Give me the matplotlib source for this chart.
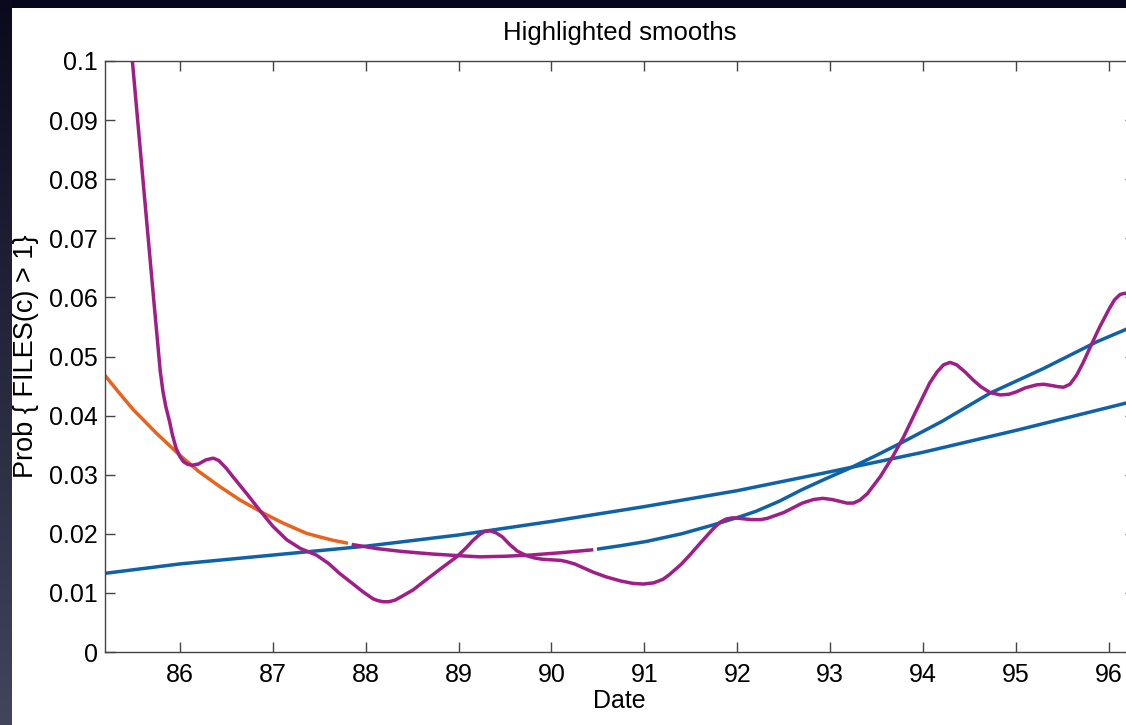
import numpy as np
import matplotlib
matplotlib.use("Agg")
import matplotlib.pyplot as plt
from matplotlib.patches import Rectangle

plt.rcParams['font.family'] = ['Liberation Sans', 'DejaVu Sans']

# ---- data ----
wiggle_x = [85.47, 85.49, 85.60, 85.71, 85.79, 85.82, 85.85, 85.89, 85.92, 85.96, 86.00, 86.04, 86.08,
            86.13, 86.20, 86.28, 86.36, 86.42, 86.50, 86.57, 86.72, 86.86, 87.00, 87.15, 87.30,
            87.47, 87.60, 87.72, 87.85, 87.97, 88.08, 88.13, 88.19, 88.25, 88.32, 88.40, 88.51,
            88.65, 88.80, 88.98, 89.08, 89.15, 89.22, 89.28, 89.34, 89.40, 89.47, 89.55, 89.63,
            89.73, 89.82, 89.90, 90.00, 90.10, 90.16, 90.25, 90.35, 90.45, 90.59, 90.75, 90.88,
            90.99, 91.10, 91.20, 91.27, 91.40, 91.50, 91.60, 91.68, 91.75, 91.82, 91.88, 91.95,
            92.03, 92.15, 92.25, 92.32, 92.50, 92.70, 92.82, 92.92, 93.02, 93.10, 93.18, 93.25,
            93.32, 93.40, 93.54, 93.67, 93.79, 93.93, 94.07, 94.15, 94.22, 94.29, 94.36, 94.45,
            94.54, 94.62, 94.72, 94.83, 94.92, 95.00, 95.10, 95.22, 95.30, 95.38, 95.45, 95.51,
            95.58, 95.65, 95.72, 95.81, 95.90, 96.00, 96.06, 96.12, 96.17, 96.22, 96.28]
wiggle_y = [0.1035, 0.1000, 0.0806, 0.0613, 0.0475, 0.0440, 0.0415, 0.0390, 0.0368, 0.0345, 0.0331, 0.0322, 0.0318,
            0.0316, 0.0318, 0.0325, 0.0328, 0.0324, 0.0311, 0.0297, 0.0268, 0.0240, 0.0213, 0.0190, 0.0175,
            0.0164, 0.0150, 0.0133, 0.0117, 0.0102, 0.0090, 0.0087, 0.0085, 0.0085, 0.0088, 0.0095, 0.0105,
            0.0122, 0.0140, 0.0161, 0.0176, 0.0188, 0.0198, 0.0204, 0.0205, 0.0202, 0.0195, 0.0182, 0.0171,
            0.0163, 0.0159, 0.0157, 0.0156, 0.0155, 0.0153, 0.0149, 0.0142, 0.0135, 0.0127, 0.0120, 0.0116,
            0.0115, 0.0117, 0.0123, 0.0131, 0.0149, 0.0166, 0.0184, 0.0198, 0.0210, 0.0220, 0.0225, 0.0227,
            0.0226, 0.0224, 0.0224, 0.0226, 0.0236, 0.0252, 0.0258, 0.0260, 0.0258, 0.0255, 0.0252, 0.0252,
            0.0257, 0.0268, 0.0297, 0.0330, 0.0364, 0.0410, 0.0455, 0.0474, 0.0486, 0.0490, 0.0486, 0.0474,
            0.0460, 0.0449, 0.0439, 0.0435, 0.0436, 0.0440, 0.0447, 0.0452, 0.0453, 0.0451, 0.0449, 0.0448,
            0.0453, 0.0468, 0.0489, 0.0520, 0.0550, 0.0580, 0.0596, 0.0605, 0.0607, 0.0606, 0.0603]

orange_x = [85.19, 85.35, 85.50, 85.75, 86.00, 86.20, 86.43, 86.65, 86.90, 87.10, 87.36, 87.50, 87.65, 87.81]
orange_y = [0.0469, 0.0438, 0.0410, 0.0370, 0.0333, 0.0306, 0.0280, 0.0257, 0.0235, 0.0219, 0.0201, 0.0195, 0.0189, 0.0184]

mid_x = [87.85, 88.12, 88.40, 88.70, 89.00, 89.23, 89.50, 89.77, 90.10, 90.45]
mid_y = [0.0182, 0.0175, 0.0170, 0.0166, 0.0163, 0.0161, 0.0162, 0.0164, 0.0168, 0.0173]

late_x = [90.49, 90.75, 91.02, 91.40, 91.74, 92.03, 92.20, 92.45, 92.70, 92.95, 93.21, 93.50, 93.79,
          94.20, 94.72, 95.30, 95.87, 96.17, 96.28]
late_y = [0.0174, 0.0180, 0.0187, 0.0200, 0.0215, 0.0229, 0.0238, 0.0255, 0.0275, 0.0293, 0.0311, 0.0333, 0.0356,
          0.0390, 0.0438, 0.0480, 0.0525, 0.0545, 0.0553]

trend_x = [85.19, 86.0, 87.0, 88.0, 89.0, 90.0, 91.0, 92.0, 93.0, 94.0, 95.0, 96.0, 96.28]
trend_y = [0.0133, 0.0149, 0.0164, 0.0179, 0.0198, 0.0221, 0.0246, 0.0273, 0.0305, 0.0338, 0.0375, 0.0414, 0.0425]

x_ticks = [86, 87, 88, 89, 90, 91, 92, 93, 94, 95, 96]
x_tick_labels = [str(t) for t in x_ticks]
y_ticks = [0, 0.01, 0.02, 0.03, 0.04, 0.05, 0.06, 0.07, 0.08, 0.09, 0.1]
y_tick_labels = ['0', '0.01', '0.02', '0.03', '0.04', '0.05', '0.06', '0.07', '0.08', '0.09', '0.1']

PURPLE = '#a01e87'
ORANGE = '#e8631c'
BLUE = '#0f62a8'

W, H = 1126, 725
fig = plt.figure(figsize=(W / 100, H / 100), dpi=100, facecolor='#06061c')

# left gradient strip
bg = fig.add_axes([0, 0, 12 / W, 1], zorder=-3)
grad = np.linspace(0, 1, 256)[:, None]
c_top = np.array([0.04, 0.04, 0.12])
c_bot = np.array([0.26, 0.27, 0.36])
img = (c_top[None, None, :] * (1 - grad[..., None]) + c_bot[None, None, :] * grad[..., None])
bg.imshow(img, aspect='auto', extent=[0, 1, 0, 1], origin='upper')
bg.axis('off')

fig.patches.append(Rectangle((12 / W, 0), 1 - 12 / W, 1 - 8 / H, transform=fig.transFigure,
                             facecolor='white', edgecolor='none', zorder=-2))

ax = fig.add_axes([104.5 / W, (H - 652) / H, 1030.5 / W, (652 - 61) / H])
ax.set_facecolor('white')

lw = 2.5
kw = dict(lw=lw, solid_capstyle='butt', solid_joinstyle='round')
ax.plot(trend_x, trend_y, color=BLUE, **kw)
ax.plot(orange_x, orange_y, color=ORANGE, **kw)
ax.plot(mid_x, mid_y, color=PURPLE, **kw)
ax.plot(late_x, late_y, color=BLUE, **kw)
ax.plot(wiggle_x, wiggle_y, color=PURPLE, **kw)

ax.set_xlim(85.19, 96.28)
ax.set_ylim(0, 0.1)
ax.set_xticks(x_ticks)
ax.set_xticklabels(x_tick_labels)
ax.set_yticks(y_ticks)
ax.set_yticklabels(y_tick_labels)

for s in ax.spines.values():
    s.set_color('#444444')
    s.set_linewidth(1.0)
ax.tick_params(direction='in', top=True, right=True, length=7.5, width=1.0,
               color='#444444', labelsize=18, labelcolor='black')
ax.tick_params(axis='x', pad=8)
ax.tick_params(axis='y', pad=5)

ax.set_title('Highlighted smooths', fontsize=18.5, pad=15, color='black')
ax.set_xlabel('Date', fontsize=18)
ax.set_ylabel('Prob { FILES(c) > 1}', fontsize=19.5)
ax.yaxis.set_label_coords(-0.064, 0.5)
ax.xaxis.set_label_coords(0.5, -0.0625)

fig.savefig('out.png', dpi=100, facecolor=fig.get_facecolor())
